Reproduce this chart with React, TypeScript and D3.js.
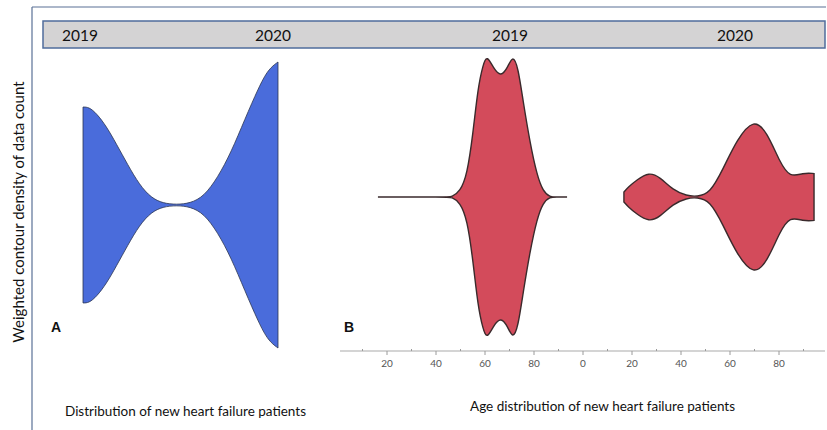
import React from "react";
import * as d3 from "d3";

// Panel A: relative weighted density across the 2019 → 2020 span (t = 0 … 1)
const spanT = [0, 0.03, 0.07, 0.12, 0.17, 0.23, 0.29, 0.35, 0.41, 0.48, 0.55, 0.62, 0.69, 0.76, 0.83, 0.9, 0.95, 1];
const spanDensity = [0.685, 0.685, 0.64, 0.55, 0.43, 0.28, 0.14, 0.05, 0.012, 0.003, 0.012, 0.06, 0.19, 0.37, 0.6, 0.82, 0.95, 1.0];

// Panel B: age distribution, 2019
const ages2019 = [16.3, 44, 46.5, 49.8, 52.7, 55.1, 57.1, 59.2, 60.8, 63.5, 66.5, 69.3, 71.4, 73.5, 75.5, 78.4, 81.2, 83.7, 86.5, 89, 93.5];
const density2019 = [0, 0, 0, 0.04, 0.16, 0.46, 0.79, 0.96, 1.03, 0.93, 0.87, 0.94, 1.03, 0.94, 0.7, 0.39, 0.16, 0.04, 0, 0, 0];

// Panel B: age distribution, 2020
const ages2020 = [16.7, 18.4, 22, 26.9, 31.4, 36.7, 42.4, 46.5, 51.8, 57.1, 62.9, 69.8, 75.1, 80.4, 84.5, 89.8, 94.3];
const density2020 = [0.036, 0.07, 0.125, 0.18, 0.145, 0.05, 0.008, 0.003, 0.025, 0.2, 0.42, 0.57, 0.47, 0.25, 0.14, 0.175, 0.17];

const yearLabels = ["2019", "2020"];
const majorTicks = [20, 40, 60, 80, 100, 120, 140, 160, 180];
const minorTicks = [10, 30, 50, 70, 90, 110, 130, 150, 170, 190];

const FONT = "Lato, 'Open Sans', sans-serif";

export default function App() {
  const W = 827;
  const H = 430;

  // Panel A scales
  const xA = d3.scaleLinear().domain([0, 1]).range([83, 278]);
  const hA = d3.scaleLinear().domain([0, 1]).range([0, 143]);
  const cyA = 205;
  const areaA = d3
    .area<number>()
    .x((_, i) => xA(spanT[i]))
    .y0((d) => cyA - hA(d))
    .y1((d) => cyA + hA(d))
    .curve(d3.curveBasis);

  // Panel B: two age axes (0–100) laid end to end
  const xB = d3.scaleLinear().domain([0, 200]).range([338, 828]);
  const hB = d3.scaleLinear().domain([0, 1]).range([0, 138]);
  const cyB = 197;
  const violin = (ages: number[], offset: number) =>
    d3
      .area<number>()
      .x((_, i) => xB(ages[i] + offset))
      .y0((d) => cyB - hB(d))
      .y1((d) => cyB + hB(d))
      .curve(d3.curveBasis);

  const axisY = 351;

  return (
    <svg
      width={W}
      height={H}
      viewBox={`0 0 ${W} ${H}`}
      style={{ position: "absolute", left: 0, top: 0, display: "block", background: "#fff" }}
    >
      {/* outer frame */}
      <line x1={32} y1={7} x2={826} y2={7} stroke="#5a7196" strokeWidth={1.2} />
      <line x1={32} y1={7} x2={32} y2={430} stroke="#5a7196" strokeWidth={1.2} />

      {/* header strip */}
      <rect x={43} y={21} width={782} height={27} fill="#d4d3d4" stroke="#4f6c9c" strokeWidth={1.5} />
      {[80, 273].map((x, i) => (
        <text key={"ha" + i} x={x} y={40.5} textAnchor="middle" fontFamily={FONT} fontSize={15.5} fill="#111">
          {yearLabels[i]}
        </text>
      ))}
      {[510, 735].map((x, i) => (
        <text key={"hb" + i} x={x} y={40.5} textAnchor="middle" fontFamily={FONT} fontSize={15.5} fill="#111">
          {yearLabels[i]}
        </text>
      ))}

      {/* y-axis title */}
      <text
        transform="translate(24,212) rotate(-90)"
        textAnchor="middle"
        fontFamily={FONT}
        fontSize={15}
        fill="#111"
      >
        Weighted contour density of data count
      </text>

      {/* Panel A */}
      <path d={areaA(spanDensity) || ""} fill="#4a6cdb" stroke="#2b3550" strokeWidth={0.8} />
      <text x={51} y={332} fontFamily="Arial, 'Liberation Sans', sans-serif" fontWeight="bold" fontSize={14} fill="#111">
        A
      </text>
      <text x={65} y={416} fontFamily={FONT} fontSize={13.5} fill="#111">
        Distribution of new heart failure patients
      </text>

      {/* Panel B */}
      <path d={violin(ages2019, 0)(density2019) || ""} fill="#d34b5b" stroke="#3a2a2c" strokeWidth={1.4} />
      <path d={violin(ages2020, 100)(density2020) || ""} fill="#d34b5b" stroke="#3a2a2c" strokeWidth={1.4} />
      <text x={344} y={332} fontFamily="Arial, 'Liberation Sans', sans-serif" fontWeight="bold" fontSize={14} fill="#111">
        B
      </text>

      {/* age axis */}
      <line x1={340} y1={axisY} x2={825} y2={axisY} stroke="#a9a9a9" strokeWidth={1.2} />
      {majorTicks.map((t) => (
        <g key={"M" + t} transform={`translate(${xB(t)},${axisY})`}>
          <line y1={0} y2={4} stroke="#9a9a9a" strokeWidth={1} />
          <text y={16} textAnchor="middle" fontFamily={FONT} fontSize={10} fill="#555">
            {t % 100}
          </text>
        </g>
      ))}
      {minorTicks.map((t) => (
        <line key={"m" + t} x1={xB(t)} x2={xB(t)} y1={axisY - 2} y2={axisY} stroke="#9a9a9a" strokeWidth={1} />
      ))}
      <text x={470} y={411} fontFamily={FONT} fontSize={13.5} fill="#111">
        Age distribution of new heart failure patients
      </text>
    </svg>
  );
}
